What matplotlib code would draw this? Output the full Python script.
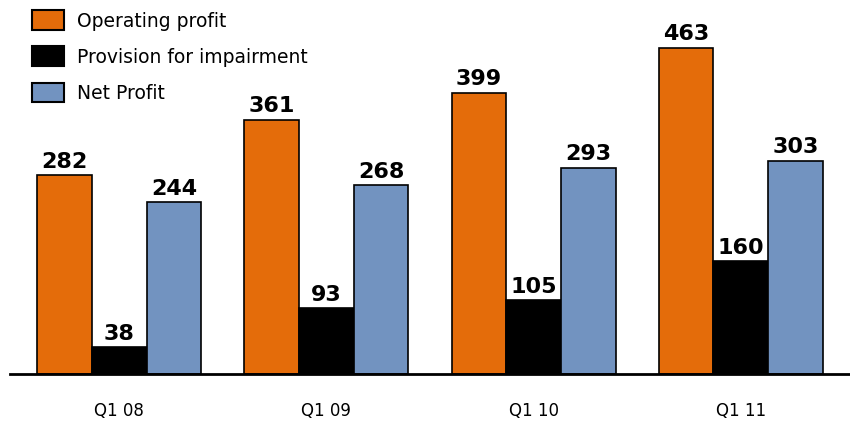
import numpy as np
import matplotlib.pyplot as plt
from matplotlib.patches import Patch

quarters = ["Q1 08", "Q1 09", "Q1 10", "Q1 11"]
operating_profit = [282, 361, 399, 463]
provision = [38, 93, 105, 160]
net_profit = [244, 268, 293, 303]

series_names = ["Operating profit", "Provision for impairment", "Net Profit"]
colors = ["#E46C0A", "#000000", "#7293C0"]

fig = plt.figure(figsize=(8.5, 4.22), dpi=100)
ax = fig.add_axes([10 / 850, 48 / 422, 840 / 850, 374 / 422])

x = np.arange(len(quarters))
width = 0.264

for i, (vals, col) in enumerate(zip([operating_profit, provision, net_profit], colors)):
    pos = x + (i - 1) * width
    ax.bar(pos, vals, width, color=col, edgecolor="black", linewidth=1.2)
    for p, v in zip(pos, vals):
        ax.text(p, v + 5, str(v), ha="center", va="bottom",
                fontsize=16, fontweight="bold", color="black")

ax.set_xlim(-0.527, len(quarters) - 1 + 0.527)
ax.set_ylim(0, 531)
ax.set_xticks(x)
ax.set_xticklabels(quarters, fontsize=12, fontweight="medium")
ax.tick_params(axis="x", length=0, pad=20)
ax.set_yticks([])
for s in ["top", "left", "right"]:
    ax.spines[s].set_visible(False)
ax.spines["bottom"].set_linewidth(2)

handles = [Patch(facecolor=c, edgecolor="black", linewidth=1.5) for c in colors]
fig.legend(handles, series_names, loc="upper left", bbox_to_anchor=(22 / 850, 1.0),
           frameon=False, fontsize=13.5, handlelength=1.7, handleheight=1.25,
           labelspacing=0.85, handletextpad=0.7, borderaxespad=0.15)

fig.savefig("out.png", dpi=100)
